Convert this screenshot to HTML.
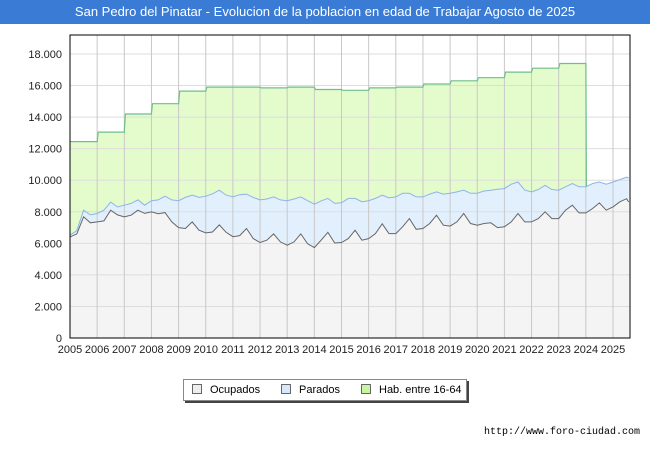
<!DOCTYPE html>
<html><head><meta charset="utf-8"><style>
body{margin:0;width:650px;height:450px;background:#fff;font-family:"Liberation Sans","DejaVu Sans",sans-serif;overflow:hidden;position:relative}
#title{position:absolute;left:0;top:0;width:650px;height:24px;background:#3a7bd5;color:#fff;font-size:13px;line-height:24px;text-align:center}
#legend{position:absolute;left:183px;top:379px;width:282px;height:20px;border:1px solid #888;box-shadow:2px 2px 0 #444;background:#fff;font-size:11px;line-height:20px}
.li{position:absolute;top:0}
.sw{display:inline-block;width:8px;height:8px;border:1px solid #666;margin-right:8px;vertical-align:-1px}
#url{position:absolute;right:10px;top:427px;font-size:10px;font-family:"Liberation Mono",monospace}
</style></head><body>
<div id="title">San Pedro del Pinatar - Evolucion de la poblacion en edad de Trabajar Agosto de 2025</div>
<svg id="chart" width="650" height="450" style="position:absolute;left:0;top:0"></svg>
<div id="legend">
<span class="li" style="left:8px"><span class="sw" style="background:#eee"></span>Ocupados</span>
<span class="li" style="left:97px"><span class="sw" style="background:#d6e8fb"></span>Parados</span>
<span class="li" style="left:177px"><span class="sw" style="background:#c8f5a0"></span>Hab. entre 16-64</span>
</div>
<div id="url">http://www.foro-ciudad.com</div>
<script>
const years=[2005,2006,2007,2008,2009,2010,2011,2012,2013,2014,2015,2016,2017,2018,2019,2020,2021,2022,2023,2024,2025];
const yTicks=[0,2000,4000,6000,8000,10000,12000,14000,16000,18000];
const yTickLabels=["0","2.000","4.000","6.000","8.000","10.000","12.000","14.000","16.000","18.000"];
const habitantes=[12450,13050,14200,14850,15650,15900,15900,15850,15900,15750,15700,15850,15900,16100,16300,16500,16850,17100,17400];
const ocupados=[6410,6600,7680,7300,7360,7420,8100,7800,7680,7780,8100,7900,7990,7880,7950,7360,7000,6940,7360,6830,6660,6720,7170,6700,6420,6490,6940,6300,6050,6200,6600,6090,5880,6090,6600,5970,5730,6200,6700,6020,6050,6300,6830,6200,6300,6620,7240,6620,6620,7050,7570,6890,6940,7260,7780,7150,7090,7360,7890,7260,7150,7260,7300,7000,7050,7360,7890,7360,7360,7570,8000,7570,7570,8100,8420,7930,7930,8210,8560,8100,8310,8630,8830,8620];
const parados=[110,200,420,500,530,680,520,500,740,750,650,520,710,870,1040,1390,1700,1970,1690,2080,2330,2420,2200,2360,2530,2590,2180,2610,2700,2610,2340,2660,2820,2720,2340,2730,2750,2490,2150,2510,2520,2550,2020,2440,2400,2230,1810,2260,2320,2120,1600,2050,2000,1860,1480,1970,2080,1900,1480,1910,2020,2060,2070,2430,2420,2390,2000,2010,1900,1840,1680,1840,1800,1480,1370,1650,1650,1580,1330,1650,1580,1410,1370,1530];
const dates=ocupados.map((_,i)=>2005+i*0.25);dates[dates.length-1]=2025.58;

const L=70,R=630,T=35,B=338,X0=2005,YW=27.15;
const x=t=>L+(t-X0)*YW, y=v=>B-v*(B-54)/18000;
const svg=document.getElementById('chart'),NS='http://www.w3.org/2000/svg';
function mk(tag,attrs,name){const e=document.createElementNS(NS,tag);for(const k in attrs)e.setAttribute(k,attrs[k]);


svg.appendChild(e);return e;}
mk('rect',{x:L,y:T,width:R-L,height:B-T,fill:'#fff'},'plot-area');
const tops=ocupados.map((o,i)=>o+parados[i]);
// hab path
let hp=[];habitantes.forEach((v,i)=>{const yr=years[i];hp.push([x(yr+(i?0.04:0)),y(v)],[x(yr+1),y(v)]);});
hp.push([x(2024.02),y(tops[76])]);
const toPts=a=>a.map(p=>p[0].toFixed(1)+','+p[1].toFixed(1)).join(' ');
mk('polygon',{points:toPts(hp)+' '+x(2024.02)+','+B+' '+L+','+B,fill:'#e4fccc'},'hab-area');
const tp=dates.map((d,i)=>[x(d),y(tops[i])]),op=dates.map((d,i)=>[x(d),y(ocupados[i])]);
mk('polygon',{points:toPts(tp)+' '+x(dates[dates.length-1])+','+B+' '+L+','+B,fill:'#e2f0fe'},'parados-area');
mk('polygon',{points:toPts(op)+' '+x(dates[dates.length-1])+','+B+' '+L+','+B,fill:'#f4f4f4'},'ocupados-area');
yTicks.forEach((v,i)=>{mk('line',{x1:L,x2:R,y1:y(v),y2:y(v),stroke:'#ddd','stroke-width':1},'y-gridline');
const t=mk('text',{x:62,y:y(v)+4,'text-anchor':'end','font-size':11,fill:'#222'},'y-tick-label');t.textContent=yTickLabels[i];});
years.forEach(yr=>{if(yr>2005)mk('line',{x1:x(yr),x2:x(yr),y1:T,y2:B,stroke:'#c8c8c8','stroke-width':1},'x-gridline');
const t=mk('text',{x:x(yr),y:353,'text-anchor':'middle','font-size':11,fill:'#222'},'x-tick-label');t.textContent=yr;});
mk('polyline',{points:toPts(hp),fill:'none',stroke:'#6fbf8c','stroke-width':1.2},'hab-line');
mk('polyline',{points:toPts(tp),fill:'none',stroke:'#8db3ea','stroke-width':1},'parados-line');
mk('polyline',{points:toPts(op),fill:'none',stroke:'#666','stroke-width':1},'ocupados-line');
mk('rect',{x:L,y:T,width:R-L,height:B-T,fill:'none',stroke:'#000','stroke-width':1},'plot-border');
</script>
</body></html>
